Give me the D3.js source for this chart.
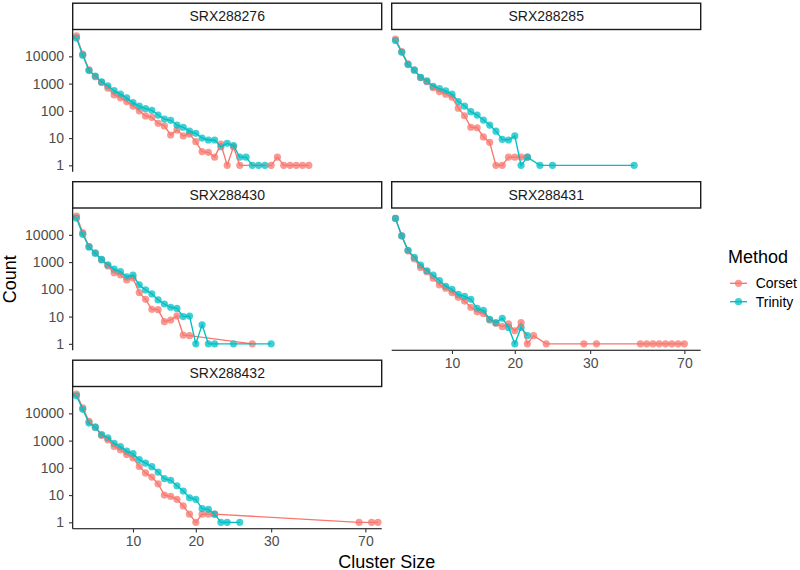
<!DOCTYPE html>
<html>
<head>
<meta charset="utf-8">
<script src="https://cdn.jsdelivr.net/npm/d3@7"></script>
<style>
  html, body { margin: 0; padding: 0; background: #fff; }
  svg { display: block; font-family: "Liberation Sans", Arial, Helvetica, sans-serif; }
</style>
</head>
<body>
<svg id="chart" width="800" height="570"></svg>
<script>
// ---------------- data ----------------
// Cluster-size categories, in the order they appear on the discrete x axis
const sizeLevels = ["1","2","3","4","5","6","7","8","9","10",
  "11","12","13","14","15","16","17","18","19","20",
  "21","22","23","24","25","26","27","28","29","31",
  "32","30","33","34","35","36","37","38","50","63",
  "64","65","66","67","68","69","70","72","73"];
const xTickLabels = ["10", "20", "30", "70"];
const yTickValues = [1, 10, 100, 1000, 10000];
const samples = ["SRX288276", "SRX288285", "SRX288430", "SRX288431", "SRX288432"];
const methods = ["Corset", "Trinity"];
const methodColors = ["#F8766D", "#00BFC4"];

// counts aligned with sizeLevels (null = size absent)
const _ = null;
const corset_SRX288276 = [56000,12000,3200,1800,1100,680,385,305,218,150,
  100,65,58,35,28,13,20,12,14,7.4, 3.2,3,2,6,1,4.8,1,_,_,_, _,1,2,1,1,1,1,1];
const trinity_SRX288276 = [47000,11000,3000,1900,1150,830,550,410,300,200,
  150,120,105,70,50,45,30,25,18,15, 10,8.5,8.5,4.8,6.4,5.3,2,2,1,1, 1];
const corset_SRX288285 = [43000,15000,5300,3200,1670,1180,710,510,410,315,
  125,66,25,24,11,7,1,1,2,2, 2,2];
const trinity_SRX288285 = [38000,14000,5000,3100,1700,1250,800,660,540,410,
  218,150,93,70,46,30,18,9,8.5,12, 1,2,_,1,_,1,_,_,_,_, _,_,_,_,_,_,_,_,1];
const corset_SRX288430 = [49000,12000,3700,2200,1200,720,410,340,220,260,
  76,43,18.6,18,6.5,7.5,10.6,2.1,2,_, _,_,_,_,_,_,_,_,1];
const trinity_SRX288430 = [41000,10500,3600,2100,1250,800,550,450,290,330,
  145,95,68,41,29,22,20,10,10.5,1, 5,1,1,_,_,1,_,_,_,_, _,1];
const corset_SRX288431 = [40000,9300,2600,1300,640,445,255,145,110,76,
  51,37,22,15,13,7.5,5.7,4.3,5.4,3, 6,1,2,_,1,_,_,_,_,_, 1,_,1,_,_,_,_,_,_,1,
  1,1,1,1,1,1,1];
const trinity_SRX288431 = [40000,9000,2700,1500,780,480,330,210,130,100,
  65,55,43,20,17,8,6,8.7,4,1, 4,2];
const corset_SRX288432 = [51000,16000,5100,3100,1540,1070,610,460,310,235,
  113,65,46,26,10,9,7,4,2,1, 2,2,2,_,_,_,_,_,_,_, _,_,_,_,_,_,_,_,_,_,
  _,_,_,_,_,1,_,1,1];
const trinity_SRX288432 = [44000,14000,4400,3100,1650,1250,800,600,410,330,
  200,150,110,70,40,35,22,14,8,7, 3.2,3,2,1,1,_,1];

const seriesBySample = {
  SRX288276: [corset_SRX288276, trinity_SRX288276],
  SRX288285: [corset_SRX288285, trinity_SRX288285],
  SRX288430: [corset_SRX288430, trinity_SRX288430],
  SRX288431: [corset_SRX288431, trinity_SRX288431],
  SRX288432: [corset_SRX288432, trinity_SRX288432]
};

// ---------------- layout ----------------
const colX = [72.7, 391.7];
const panelW = 309;
const rowTop = [29.5, 208.0, 386.5];
const panelH = 142.3;
const stripH = 26.3;
const nCols = 2;
const ptR = 3.6;

const svg = d3.select("#chart");

function toPoints(arr) {
  const pts = [];
  arr.forEach((v, i) => { if (v !== null && v !== undefined) pts.push({ size: sizeLevels[i], count: v }); });
  return pts;
}

// shared y domain (log) with 5% expansion
const allCounts = [];
samples.forEach(s => seriesBySample[s].forEach(a => a.forEach(v => { if (v) allCounts.push(v); })));
const lmin = Math.log10(d3.min(allCounts)), lmax = Math.log10(d3.max(allCounts));
const lpad = (lmax - lmin) * 0.05;
const yDomain = [Math.pow(10, lmin - lpad), Math.pow(10, lmax + lpad)];

const textCol = "#4D4D4D";

samples.forEach((s, i) => {
  const r = Math.floor(i / nCols), c = i % nCols;
  const x0 = colX[c], y0 = rowTop[r];
  const x = d3.scalePoint().domain(sizeLevels).range([x0, x0 + panelW]).padding(0.6);
  const y = d3.scaleLog().domain(yDomain).range([y0 + panelH, y0]);

  const g = svg.append("g");

  // strip
  g.append("rect").attr("x", x0).attr("y", y0 - stripH).attr("width", panelW).attr("height", stripH)
    .attr("fill", "#fff").attr("stroke", "#1a1a1a").attr("stroke-width", 1.4);
  g.append("text").attr("x", x0 + panelW / 2).attr("y", y0 - stripH / 2).attr("dy", "0.36em")
    .attr("text-anchor", "middle").attr("font-size", 14).attr("fill", "#1A1A1A").text(s);

  const series = seriesBySample[s].map(toPoints);

  // points
  series.forEach((pts, m) => {
    g.append("g").selectAll("circle").data(pts).join("circle")
      .attr("cx", d => x(d.size)).attr("cy", d => y(d.count)).attr("r", ptR)
      .attr("fill", methodColors[m]).attr("fill-opacity", 0.75);
  });
  // lines
  const line = d3.line().x(d => x(d.size)).y(d => y(d.count));
  series.forEach((pts, m) => {
    g.append("path").datum(pts).attr("d", line).attr("fill", "none")
      .attr("stroke", methodColors[m]).attr("stroke-width", 1.35);
  });

  // y axis on first column
  if (c === 0) {
    const ya = g.append("g").attr("transform", `translate(${x0},0)`)
      .call(d3.axisLeft(y).tickValues(yTickValues).tickFormat(d3.format("d")).tickSize(3.7).tickPadding(5));
    ya.select(".domain").attr("stroke", "#000").attr("stroke-width", 1.1).attr("d", `M0,${y0}V${y0 + panelH}`);
    ya.selectAll(".tick line").attr("stroke", "#333").attr("stroke-width", 1.1);
    ya.selectAll(".tick text").attr("font-size", 14).attr("fill", textCol).attr("font-family", null);
  }
  // x axis where no panel below
  const below = i + nCols;
  if (below >= samples.length) {
    const xa = g.append("g").attr("transform", `translate(0,${y0 + panelH})`)
      .call(d3.axisBottom(x).tickValues(xTickLabels).tickSize(3.7).tickPadding(4));
    xa.select(".domain").attr("stroke", "#000").attr("stroke-width", 1.1).attr("d", `M${x0},0H${x0 + panelW}`);
    xa.selectAll(".tick line").attr("stroke", "#333").attr("stroke-width", 1.1);
    xa.selectAll(".tick text").attr("font-size", 14).attr("fill", textCol).attr("font-family", null);
  }
});

// axis titles
svg.append("text").attr("transform", `translate(16,${(rowTop[0] + rowTop[2] + panelH) / 2}) rotate(-90)`)
  .attr("text-anchor", "middle").attr("font-size", 18).attr("fill", "#000").text("Count");
svg.append("text").attr("x", (colX[0] + colX[1] + panelW) / 2).attr("y", 567.5)
  .attr("text-anchor", "middle").attr("font-size", 18).attr("fill", "#000").text("Cluster Size");

// legend
const lg = svg.append("g");
lg.append("text").attr("x", 728).attr("y", 263.3).attr("font-size", 18).attr("fill", "#000").text("Method");
const keyY = [283.3, 301.7];
methods.forEach((m, k) => {
  lg.append("line").attr("x1", 730).attr("x2", 747).attr("y1", keyY[k]).attr("y2", keyY[k])
    .attr("stroke", methodColors[k]).attr("stroke-width", 1.35);
  lg.append("circle").attr("cx", 738.5).attr("cy", keyY[k]).attr("r", ptR)
    .attr("fill", methodColors[k]).attr("fill-opacity", 0.75);
  lg.append("text").attr("x", 755.7).attr("y", keyY[k]).attr("dy", "0.36em")
    .attr("font-size", 14).attr("fill", "#000").text(m);
});
</script>
</body>
</html>
